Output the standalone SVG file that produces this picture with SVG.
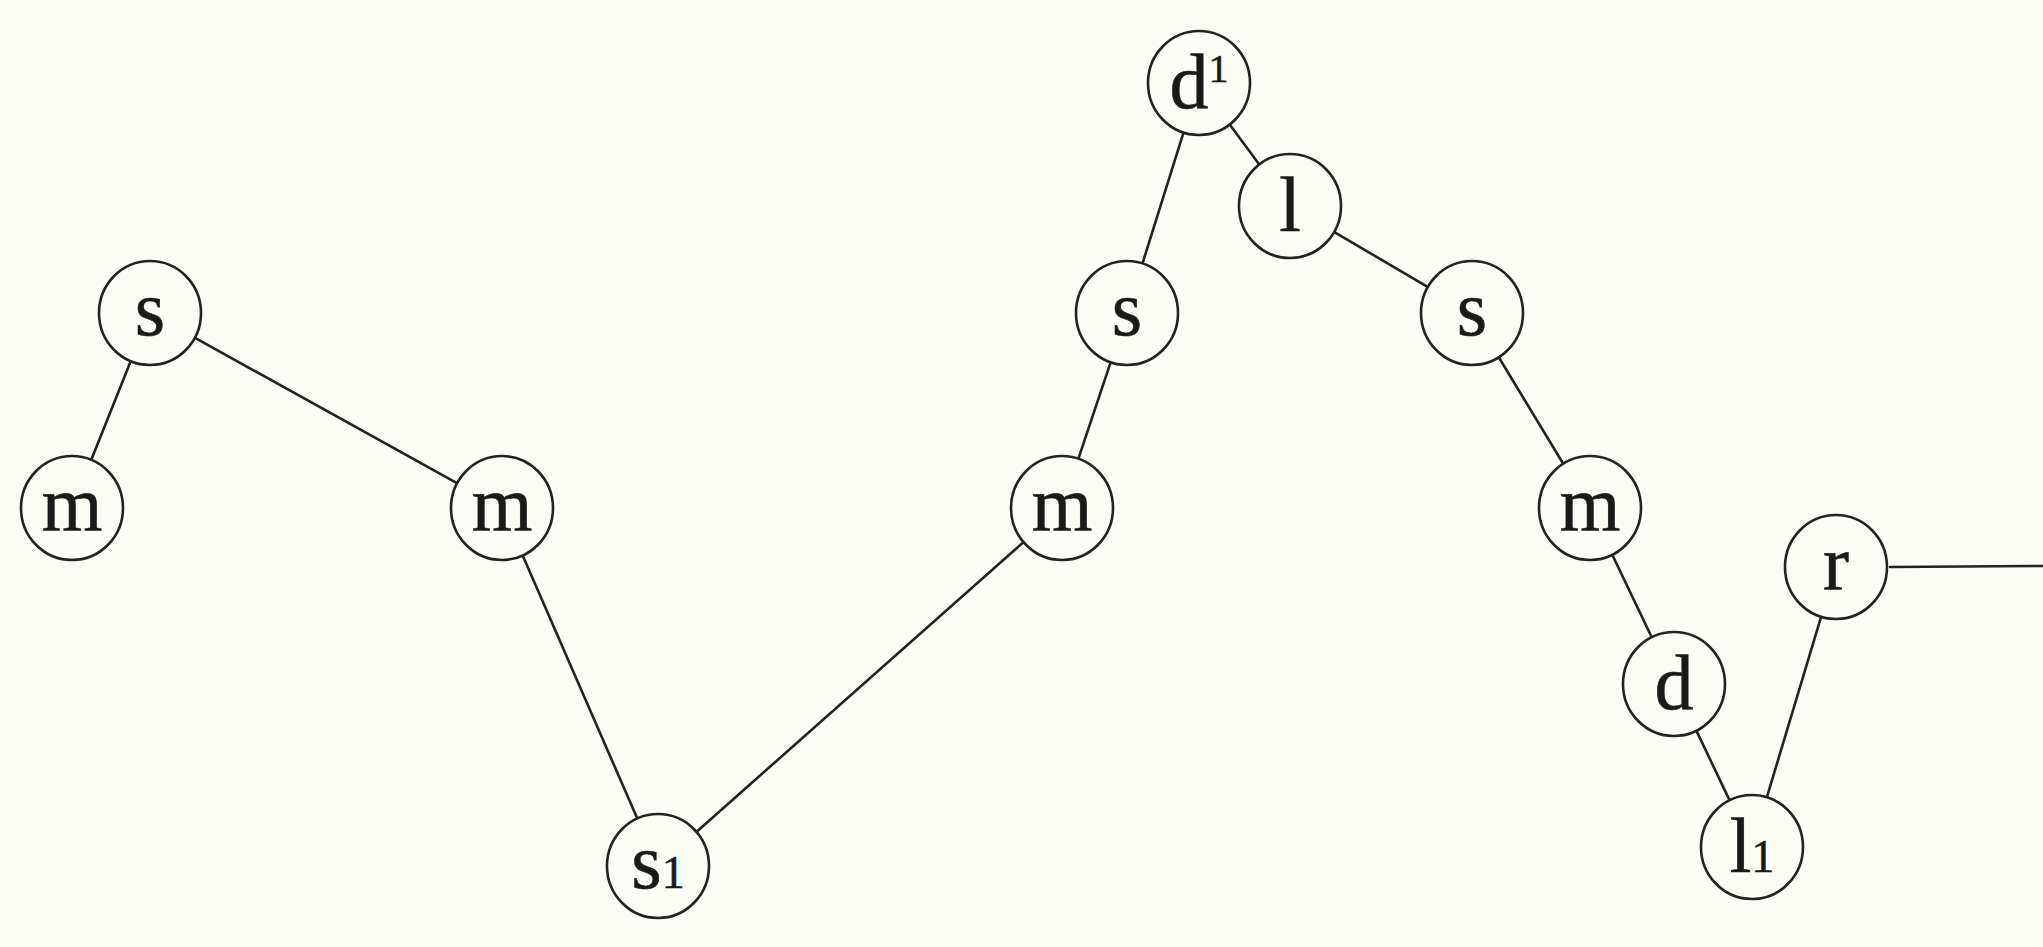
<svg xmlns="http://www.w3.org/2000/svg" width="2043" height="947" viewBox="0 0 2043 947">
<style>
.bg{fill:#fcfcf6}
.n ellipse{fill:#fcfcf6;stroke:#222;stroke-width:2.6}
.n text{font-family:"Liberation Serif","Times New Roman",serif;font-size:78px;fill:#1a1a1a;stroke:#1a1a1a;stroke-width:0.6;text-anchor:middle}
.sub{font-size:46px}
.sup{font-size:40px}
#edges line{stroke:#222;stroke-width:2.6;stroke-linecap:round}
</style>
<rect class="bg" x="0" y="0" width="2043" height="947"/>
<g id="edges">
<line x1="130.7" y1="361.3" x2="91.3" y2="459.7"/>
<line x1="195.5" y1="338.2" x2="456.5" y2="482.8"/>
<line x1="522.8" y1="555.7" x2="637.2" y2="818.3"/>
<line x1="696.9" y1="831.5" x2="1023.1" y2="542.5"/>
<line x1="1078.4" y1="458.7" x2="1110.6" y2="362.3"/>
<line x1="1142.5" y1="263.4" x2="1183.5" y2="132.6"/>
<line x1="1229.9" y1="124.8" x2="1259.1" y2="164.2"/>
<line x1="1334.8" y1="232.4" x2="1427.2" y2="286.6"/>
<line x1="1498.9" y1="357.5" x2="1563.1" y2="463.5"/>
<line x1="1612.4" y1="555" x2="1651.6" y2="637"/>
<line x1="1696.5" y1="730.9" x2="1729.5" y2="800.1"/>
<line x1="1766.9" y1="797.2" x2="1821.1" y2="616.8"/>
<line x1="1890" y1="567" x2="2043" y2="566"/>
</g>
<g id="n1" class="n"><ellipse cx="150" cy="313" rx="51" ry="52"/><text x="150" y="335">s</text></g>
<g id="n2" class="n"><ellipse cx="72" cy="508" rx="51" ry="52"/><text x="72" y="530">m</text></g>
<g id="n3" class="n"><ellipse cx="502" cy="508" rx="51" ry="52"/><text x="502" y="530">m</text></g>
<g id="n4" class="n"><ellipse cx="658" cy="866" rx="51" ry="52"/><text x="658" y="888">s<tspan class="sub">1</tspan></text></g>
<g id="n5" class="n"><ellipse cx="1062" cy="508" rx="51" ry="52"/><text x="1062" y="530">m</text></g>
<g id="n6" class="n"><ellipse cx="1127" cy="313" rx="51" ry="52"/><text x="1127" y="335">s</text></g>
<g id="n7" class="n"><ellipse cx="1199" cy="83" rx="51" ry="52"/><text x="1199" y="108">d<tspan class="sup" dy="-26">1</tspan></text></g>
<g id="n8" class="n"><ellipse cx="1290" cy="206" rx="51" ry="52"/><text x="1290" y="231">l</text></g>
<g id="n9" class="n"><ellipse cx="1472" cy="313" rx="51" ry="52"/><text x="1472" y="335">s</text></g>
<g id="n10" class="n"><ellipse cx="1590" cy="508" rx="51" ry="52"/><text x="1590" y="530">m</text></g>
<g id="n11" class="n"><ellipse cx="1674" cy="684" rx="51" ry="52"/><text x="1674" y="709">d</text></g>
<g id="n12" class="n"><ellipse cx="1752" cy="847" rx="51" ry="52"/><text x="1752" y="872">l<tspan class="sub">1</tspan></text></g>
<g id="n13" class="n"><ellipse cx="1836" cy="567" rx="51" ry="52"/><text x="1836" y="589">r</text></g>
</svg>
